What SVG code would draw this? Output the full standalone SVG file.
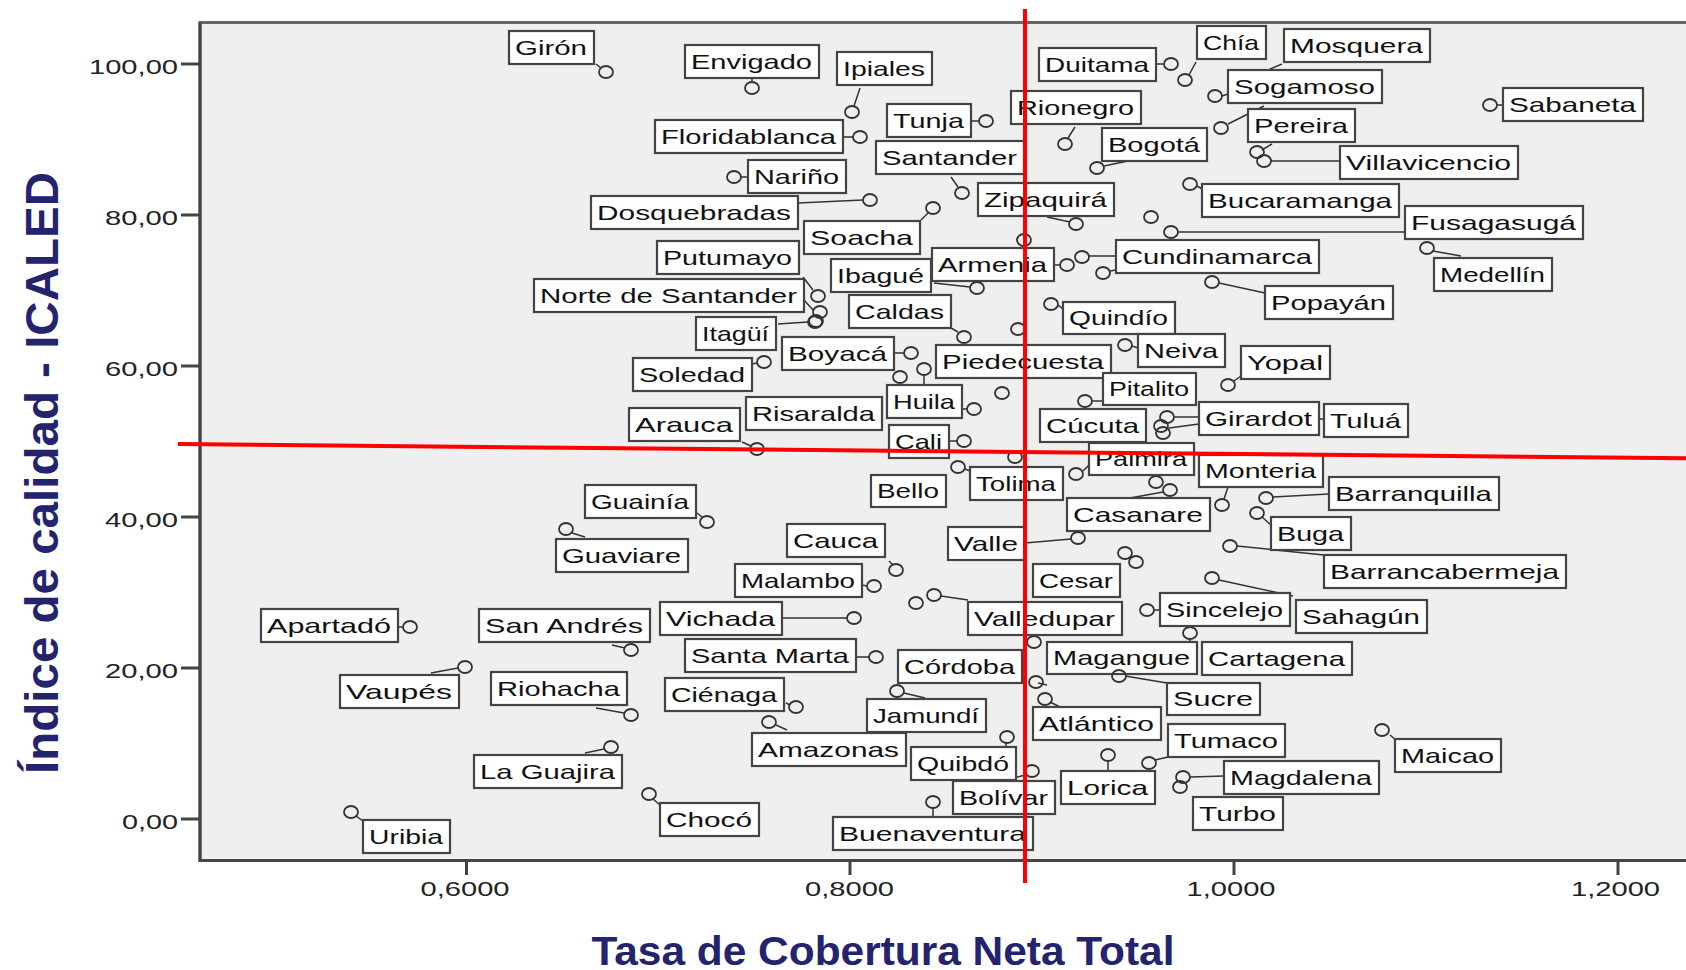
<svg xmlns="http://www.w3.org/2000/svg" width="1686" height="970" viewBox="0 0 1686 970">
<style>
.b{fill:#fff;stroke:#444;stroke-width:2.2}
.t{font-family:"Liberation Sans",Arial,sans-serif;font-size:21px;fill:#111}
.m{fill:none;stroke:#333;stroke-width:1.8}
.c{stroke:#333;stroke-width:1.5;fill:none}
.tk{font-family:"Liberation Sans",Arial,sans-serif;font-size:20px;fill:#222}
.ax{stroke:#444;stroke-width:3;fill:none}
.red{stroke:#ff0000;stroke-width:4;fill:none}
.ttl{font-family:"Liberation Sans",Arial,sans-serif;font-weight:bold;fill:#23236e}
</style>
<rect x="0" y="0" width="1686" height="970" fill="#fff"/>
<g id="plot-frame">
<rect x="200" y="22.5" width="1500" height="838" fill="#efefef" stroke="#666" stroke-width="3"/>
<path class="ax" d="M200 22.5V860.5H1686"/>
</g>
<g id="y-axis">
<path class="ax" d="M181 64H200M181 215H200M181 366H200M181 517H200M181 668H200M181 819H200"/>
<text class="tk" x="178" y="73.5" text-anchor="end" textLength="89" lengthAdjust="spacingAndGlyphs">100,00</text>
<text class="tk" x="178" y="224.5" text-anchor="end" textLength="73" lengthAdjust="spacingAndGlyphs">80,00</text>
<text class="tk" x="178" y="375.5" text-anchor="end" textLength="73" lengthAdjust="spacingAndGlyphs">60,00</text>
<text class="tk" x="178" y="526.5" text-anchor="end" textLength="73" lengthAdjust="spacingAndGlyphs">40,00</text>
<text class="tk" x="178" y="677.5" text-anchor="end" textLength="73" lengthAdjust="spacingAndGlyphs">20,00</text>
<text class="tk" x="178" y="828.5" text-anchor="end" textLength="56" lengthAdjust="spacingAndGlyphs">0,00</text>
<text class="ttl" font-size="46" transform="translate(58 473) rotate(-90)" text-anchor="middle" textLength="602" lengthAdjust="spacingAndGlyphs">Índice de calidad - ICALED</text>
</g>
<g id="x-axis">
<path class="ax" d="M466.5 860V875M850 860V875M1234 860V875M1618 860V875"/>
<text class="tk" x="465" y="896" text-anchor="middle" textLength="89" lengthAdjust="spacingAndGlyphs">0,6000</text>
<text class="tk" x="849.5" y="896" text-anchor="middle" textLength="89" lengthAdjust="spacingAndGlyphs">0,8000</text>
<text class="tk" x="1231" y="896" text-anchor="middle" textLength="89" lengthAdjust="spacingAndGlyphs">1,0000</text>
<text class="tk" x="1615.5" y="896" text-anchor="middle" textLength="89" lengthAdjust="spacingAndGlyphs">1,2000</text>
<text class="ttl" font-size="40" x="883" y="965" text-anchor="middle" textLength="583" lengthAdjust="spacingAndGlyphs">Tasa de Cobertura Neta Total</text>
</g>
<g id="connectors">
<path class="c" d="M596 64L601 68M752 79V82M860 88L854 106M843 137H853M971 121H979M1075 127L1068 138M1104 166L1128 161M951 177L958 187M741 177H748M798 203L863 200M1047 217L1070 222M921 220L928 213M803 277L813 290M1060 265H1054M1089 256H1116M1110 271L1116 270M934 283L970 287M804 300L813 310M951 328L958 332M1058 305L1063 309M778 324L808 322M894 353H904M752 364L757 363M924 376V385M1132 346L1138 348M1234 381L1241 376M1092 401H1103M962 409H967M742 442L751 446M949 441H957M1174 417H1199M1169 428L1199 424M1319 419H1324M1083 471L1089 465M965 469L970 471M1228 487L1224 499M1163 492L1130 498M1273 497L1329 494M1262 517L1271 525M1237 546L1324 555M697 513L703 518M572 533L585 537M889 561L893 565M1025 543L1071 539M862 585L867 586M941 596L968 600M782 618H847M1154 610H1160M1219 580L1293 596M612 645L625 648M398 627H403M856 657H869M1125 676L1167 683M1050 702L1060 707M1155 760L1168 757M1190 777L1224 776M1390 735L1396 740M1108 761V771M786 703L790 705M596 708L624 713M431 673L458 668M904 693L925 698M776 725L787 730M1006 743V747M1025 775L1014 778M933 808V817M585 753L604 749M653 799L660 805M356 816L363 821M1497 105H1503M1156 64H1164M1196 62L1189 75M1282 64L1270 69M1222 96L1228 94M1228 124L1264 106M1271 161H1340M1262 150L1272 144M1197 186L1204 190M1178 232H1405M1433 251L1461 256M1219 283L1265 293M1190 639V642M1038 683L1047 685"/>
</g>
<g id="points">
<ellipse class="m" cx="1024" cy="240" rx="7" ry="6"/>
<ellipse class="m" cx="1002" cy="393" rx="7" ry="6"/>
<ellipse class="m" cx="1015" cy="457" rx="7" ry="6"/>
<ellipse class="m" cx="1156" cy="482" rx="7" ry="6"/>
<ellipse class="m" cx="1170" cy="490" rx="7" ry="6"/>
<ellipse class="m" cx="1125" cy="553" rx="7" ry="6"/>
<ellipse class="m" cx="1136" cy="562" rx="7" ry="6"/>
<ellipse class="m" cx="916" cy="603" rx="7" ry="6"/>
<ellipse class="m" cx="934" cy="595" rx="7" ry="6"/>
<ellipse class="m" cx="1151" cy="217" rx="7" ry="6"/>
<ellipse class="m" cx="1034" cy="642" rx="7" ry="6"/>
<ellipse class="m" cx="1190" cy="633" rx="7" ry="6"/>
<ellipse class="m" cx="1036" cy="682" rx="7" ry="6"/>
<ellipse class="m" cx="900" cy="377" rx="7" ry="6"/>
<ellipse class="m" cx="1018" cy="329" rx="7" ry="6"/>
<ellipse class="m" cx="1257" cy="152" rx="7" ry="6"/>
<ellipse class="m" cx="1082" cy="257" rx="7" ry="6"/>
<ellipse class="m" cx="1103" cy="273" rx="7" ry="6"/>
<ellipse class="m" cx="1161" cy="426" rx="7" ry="6"/>
<ellipse class="m" cx="1163" cy="433" rx="7" ry="6"/>
<ellipse class="m" cx="1180" cy="787" rx="7" ry="6"/>
<ellipse class="m" cx="818" cy="296" rx="7" ry="6"/>
<ellipse class="m" cx="816" cy="321" rx="7" ry="6"/>
</g>
<g id="n-giron"><rect class="b" x="509" y="31" width="85" height="33"/><text class="t" x="515" y="55" textLength="72" lengthAdjust="spacingAndGlyphs">Girón</text><ellipse class="m" cx="606" cy="72" rx="7" ry="6"/></g>
<g id="n-envigado"><rect class="b" x="685" y="45" width="134" height="33"/><text class="t" x="691" y="69" textLength="121" lengthAdjust="spacingAndGlyphs">Envigado</text><ellipse class="m" cx="752" cy="88" rx="7" ry="6"/></g>
<g id="n-ipiales"><rect class="b" x="837" y="52" width="95" height="33"/><text class="t" x="843" y="76" textLength="82" lengthAdjust="spacingAndGlyphs">Ipiales</text><ellipse class="m" cx="852" cy="112" rx="7" ry="6"/></g>
<g id="n-floridablanca"><rect class="b" x="655" y="120" width="188" height="33"/><text class="t" x="661" y="144" textLength="175" lengthAdjust="spacingAndGlyphs">Floridablanca</text><ellipse class="m" cx="860" cy="137" rx="7" ry="6"/></g>
<g id="n-tunja"><rect class="b" x="887" y="104" width="84" height="33"/><text class="t" x="893" y="128" textLength="71" lengthAdjust="spacingAndGlyphs">Tunja</text><ellipse class="m" cx="986" cy="121" rx="7" ry="6"/></g>
<g id="n-rionegro"><rect class="b" x="1011" y="91" width="130" height="33"/><text class="t" x="1017" y="115" textLength="117" lengthAdjust="spacingAndGlyphs">Rionegro</text><ellipse class="m" cx="1065" cy="144" rx="7" ry="6"/></g>
<g id="n-bogota"><rect class="b" x="1102" y="128" width="105" height="33"/><text class="t" x="1108" y="152" textLength="92" lengthAdjust="spacingAndGlyphs">Bogotá</text><ellipse class="m" cx="1097" cy="168" rx="7" ry="6"/></g>
<g id="n-santander"><rect class="b" x="876" y="141" width="148" height="33"/><text class="t" x="882" y="165" textLength="135" lengthAdjust="spacingAndGlyphs">Santander</text><ellipse class="m" cx="962" cy="193" rx="7" ry="6"/></g>
<g id="n-narino"><rect class="b" x="748" y="160" width="98" height="33"/><text class="t" x="754" y="184" textLength="85" lengthAdjust="spacingAndGlyphs">Nariño</text><ellipse class="m" cx="734" cy="177" rx="7" ry="6"/></g>
<g id="n-dosquebradas"><rect class="b" x="591" y="196" width="207" height="33"/><text class="t" x="597" y="220" textLength="194" lengthAdjust="spacingAndGlyphs">Dosquebradas</text><ellipse class="m" cx="870" cy="200" rx="7" ry="6"/></g>
<g id="n-zipaquira"><rect class="b" x="978" y="183" width="136" height="33"/><text class="t" x="984" y="207" textLength="123" lengthAdjust="spacingAndGlyphs">Zipaquirá</text><ellipse class="m" cx="1076" cy="224" rx="7" ry="6"/></g>
<g id="n-soacha"><rect class="b" x="804" y="221" width="116" height="33"/><text class="t" x="810" y="245" textLength="103" lengthAdjust="spacingAndGlyphs">Soacha</text><ellipse class="m" cx="933" cy="208" rx="7" ry="6"/></g>
<g id="n-putumayo"><rect class="b" x="657" y="241" width="142" height="33"/><text class="t" x="663" y="265" textLength="129" lengthAdjust="spacingAndGlyphs">Putumayo</text></g>
<g id="n-armenia"><rect class="b" x="932" y="248" width="122" height="33"/><text class="t" x="938" y="272" textLength="109" lengthAdjust="spacingAndGlyphs">Armenia</text><ellipse class="m" cx="1067" cy="265" rx="7" ry="6"/></g>
<g id="n-ibague"><rect class="b" x="831" y="259" width="100" height="33"/><text class="t" x="837" y="283" textLength="87" lengthAdjust="spacingAndGlyphs">Ibagué</text><ellipse class="m" cx="977" cy="288" rx="7" ry="6"/></g>
<g id="n-norte-de-santander"><rect class="b" x="534" y="279" width="270" height="33"/><text class="t" x="540" y="303" textLength="257" lengthAdjust="spacingAndGlyphs">Norte de Santander</text><ellipse class="m" cx="820" cy="312" rx="7" ry="6"/></g>
<g id="n-caldas"><rect class="b" x="849" y="295" width="102" height="33"/><text class="t" x="855" y="319" textLength="89" lengthAdjust="spacingAndGlyphs">Caldas</text><ellipse class="m" cx="964" cy="337" rx="7" ry="6"/></g>
<g id="n-quindio"><rect class="b" x="1063" y="302" width="112" height="32"/><text class="t" x="1069" y="325" textLength="99" lengthAdjust="spacingAndGlyphs">Quindío</text><ellipse class="m" cx="1051" cy="304" rx="7" ry="6"/></g>
<g id="n-itagui"><rect class="b" x="696" y="317" width="80" height="33"/><text class="t" x="702" y="341" textLength="67" lengthAdjust="spacingAndGlyphs">Itagüí</text><ellipse class="m" cx="815" cy="322" rx="7" ry="6"/></g>
<g id="n-boyaca"><rect class="b" x="782" y="337" width="112" height="33"/><text class="t" x="788" y="361" textLength="99" lengthAdjust="spacingAndGlyphs">Boyacá</text><ellipse class="m" cx="911" cy="353" rx="7" ry="6"/></g>
<g id="n-soledad"><rect class="b" x="633" y="358" width="119" height="33"/><text class="t" x="639" y="382" textLength="106" lengthAdjust="spacingAndGlyphs">Soledad</text><ellipse class="m" cx="764" cy="362" rx="7" ry="6"/></g>
<g id="n-piedecuesta"><rect class="b" x="936" y="345" width="175" height="33"/><text class="t" x="942" y="369" textLength="162" lengthAdjust="spacingAndGlyphs">Piedecuesta</text><ellipse class="m" cx="924" cy="369" rx="7" ry="6"/></g>
<g id="n-neiva"><rect class="b" x="1138" y="334" width="87" height="33"/><text class="t" x="1144" y="358" textLength="74" lengthAdjust="spacingAndGlyphs">Neiva</text><ellipse class="m" cx="1125" cy="345" rx="7" ry="6"/></g>
<g id="n-yopal"><rect class="b" x="1241" y="346" width="89" height="33"/><text class="t" x="1247" y="370" textLength="76" lengthAdjust="spacingAndGlyphs">Yopal</text><ellipse class="m" cx="1228" cy="385" rx="7" ry="6"/></g>
<g id="n-pitalito"><rect class="b" x="1103" y="373" width="93" height="32"/><text class="t" x="1109" y="396" textLength="80" lengthAdjust="spacingAndGlyphs">Pitalito</text><ellipse class="m" cx="1085" cy="401" rx="7" ry="6"/></g>
<g id="n-huila"><rect class="b" x="887" y="385" width="75" height="33"/><text class="t" x="893" y="409" textLength="62" lengthAdjust="spacingAndGlyphs">Huila</text><ellipse class="m" cx="974" cy="409" rx="7" ry="6"/></g>
<g id="n-risaralda"><rect class="b" x="746" y="397" width="136" height="33"/><text class="t" x="752" y="421" textLength="123" lengthAdjust="spacingAndGlyphs">Risaralda</text></g>
<g id="n-arauca"><rect class="b" x="629" y="408" width="111" height="33"/><text class="t" x="635" y="432" textLength="98" lengthAdjust="spacingAndGlyphs">Arauca</text><ellipse class="m" cx="757" cy="449" rx="7" ry="6"/></g>
<g id="n-cali"><rect class="b" x="889" y="425" width="60" height="33"/><text class="t" x="895" y="449" textLength="47" lengthAdjust="spacingAndGlyphs">Cali</text><ellipse class="m" cx="964" cy="441" rx="7" ry="6"/></g>
<g id="n-cucuta"><rect class="b" x="1040" y="409" width="106" height="33"/><text class="t" x="1046" y="433" textLength="93" lengthAdjust="spacingAndGlyphs">Cúcuta</text><ellipse class="m" cx="1167" cy="417" rx="7" ry="6"/></g>
<g id="n-girardot"><rect class="b" x="1199" y="402" width="120" height="33"/><text class="t" x="1205" y="426" textLength="107" lengthAdjust="spacingAndGlyphs">Girardot</text></g>
<g id="n-tulua"><rect class="b" x="1324" y="404" width="84" height="33"/><text class="t" x="1330" y="428" textLength="71" lengthAdjust="spacingAndGlyphs">Tuluá</text></g>
<g id="n-palmira"><rect class="b" x="1089" y="443" width="105" height="32"/><text class="t" x="1095" y="466" textLength="92" lengthAdjust="spacingAndGlyphs">Palmira</text><ellipse class="m" cx="1076" cy="474" rx="7" ry="6"/></g>
<g id="n-tolima"><rect class="b" x="970" y="467" width="93" height="33"/><text class="t" x="976" y="491" textLength="80" lengthAdjust="spacingAndGlyphs">Tolima</text><ellipse class="m" cx="958" cy="467" rx="7" ry="6"/></g>
<g id="n-bello"><rect class="b" x="871" y="475" width="75" height="32"/><text class="t" x="877" y="498" textLength="62" lengthAdjust="spacingAndGlyphs">Bello</text></g>
<g id="n-monteria"><rect class="b" x="1199" y="455" width="124" height="32"/><text class="t" x="1205" y="478" textLength="111" lengthAdjust="spacingAndGlyphs">Monteria</text><ellipse class="m" cx="1222" cy="505" rx="7" ry="6"/></g>
<g id="n-casanare"><rect class="b" x="1067" y="498" width="143" height="33"/><text class="t" x="1073" y="522" textLength="130" lengthAdjust="spacingAndGlyphs">Casanare</text></g>
<g id="n-barranquilla"><rect class="b" x="1329" y="477" width="170" height="33"/><text class="t" x="1335" y="501" textLength="157" lengthAdjust="spacingAndGlyphs">Barranquilla</text><ellipse class="m" cx="1266" cy="498" rx="7" ry="6"/></g>
<g id="n-buga"><rect class="b" x="1271" y="517" width="80" height="33"/><text class="t" x="1277" y="541" textLength="67" lengthAdjust="spacingAndGlyphs">Buga</text><ellipse class="m" cx="1257" cy="513" rx="7" ry="6"/></g>
<g id="n-barrancabermeja"><rect class="b" x="1324" y="555" width="242" height="33"/><text class="t" x="1330" y="579" textLength="229" lengthAdjust="spacingAndGlyphs">Barrancabermeja</text><ellipse class="m" cx="1230" cy="546" rx="7" ry="6"/></g>
<g id="n-guainia"><rect class="b" x="585" y="485" width="111" height="33"/><text class="t" x="591" y="509" textLength="98" lengthAdjust="spacingAndGlyphs">Guainía</text><ellipse class="m" cx="707" cy="522" rx="7" ry="6"/></g>
<g id="n-guaviare"><rect class="b" x="556" y="539" width="132" height="33"/><text class="t" x="562" y="563" textLength="119" lengthAdjust="spacingAndGlyphs">Guaviare</text><ellipse class="m" cx="566" cy="529" rx="7" ry="6"/></g>
<g id="n-cauca"><rect class="b" x="787" y="524" width="98" height="33"/><text class="t" x="793" y="548" textLength="85" lengthAdjust="spacingAndGlyphs">Cauca</text><ellipse class="m" cx="896" cy="570" rx="7" ry="6"/></g>
<g id="n-valle"><rect class="b" x="948" y="527" width="77" height="33"/><text class="t" x="954" y="551" textLength="64" lengthAdjust="spacingAndGlyphs">Valle</text><ellipse class="m" cx="1078" cy="538" rx="7" ry="6"/></g>
<g id="n-malambo"><rect class="b" x="735" y="564" width="127" height="33"/><text class="t" x="741" y="588" textLength="114" lengthAdjust="spacingAndGlyphs">Malambo</text><ellipse class="m" cx="874" cy="586" rx="7" ry="6"/></g>
<g id="n-cesar"><rect class="b" x="1033" y="564" width="87" height="33"/><text class="t" x="1039" y="588" textLength="74" lengthAdjust="spacingAndGlyphs">Cesar</text></g>
<g id="n-vichada"><rect class="b" x="660" y="602" width="122" height="33"/><text class="t" x="666" y="626" textLength="109" lengthAdjust="spacingAndGlyphs">Vichada</text><ellipse class="m" cx="854" cy="618" rx="7" ry="6"/></g>
<g id="n-valledupar"><rect class="b" x="968" y="602" width="154" height="33"/><text class="t" x="974" y="626" textLength="141" lengthAdjust="spacingAndGlyphs">Valledupar</text></g>
<g id="n-sincelejo"><rect class="b" x="1160" y="593" width="130" height="33"/><text class="t" x="1166" y="617" textLength="117" lengthAdjust="spacingAndGlyphs">Sincelejo</text><ellipse class="m" cx="1147" cy="610" rx="7" ry="6"/></g>
<g id="n-sahagun"><rect class="b" x="1296" y="600" width="131" height="33"/><text class="t" x="1302" y="624" textLength="118" lengthAdjust="spacingAndGlyphs">Sahagún</text><ellipse class="m" cx="1212" cy="578" rx="7" ry="6"/></g>
<g id="n-san-andres"><rect class="b" x="479" y="609" width="171" height="33"/><text class="t" x="485" y="633" textLength="158" lengthAdjust="spacingAndGlyphs">San Andrés</text><ellipse class="m" cx="631" cy="650" rx="7" ry="6"/></g>
<g id="n-apartado"><rect class="b" x="261" y="609" width="137" height="33"/><text class="t" x="267" y="633" textLength="124" lengthAdjust="spacingAndGlyphs">Apartadó</text><ellipse class="m" cx="410" cy="627" rx="7" ry="6"/></g>
<g id="n-santa-marta"><rect class="b" x="685" y="639" width="171" height="33"/><text class="t" x="691" y="663" textLength="158" lengthAdjust="spacingAndGlyphs">Santa Marta</text><ellipse class="m" cx="876" cy="657" rx="7" ry="6"/></g>
<g id="n-cordoba"><rect class="b" x="898" y="650" width="124" height="33"/><text class="t" x="904" y="674" textLength="111" lengthAdjust="spacingAndGlyphs">Córdoba</text></g>
<g id="n-magangue"><rect class="b" x="1047" y="642" width="150" height="32"/><text class="t" x="1053" y="665" textLength="137" lengthAdjust="spacingAndGlyphs">Magangue</text></g>
<g id="n-cartagena"><rect class="b" x="1202" y="642" width="150" height="33"/><text class="t" x="1208" y="666" textLength="137" lengthAdjust="spacingAndGlyphs">Cartagena</text></g>
<g id="n-sucre"><rect class="b" x="1167" y="683" width="93" height="32"/><text class="t" x="1173" y="706" textLength="80" lengthAdjust="spacingAndGlyphs">Sucre</text><ellipse class="m" cx="1119" cy="676" rx="7" ry="6"/></g>
<g id="n-atlantico"><rect class="b" x="1033" y="707" width="128" height="33"/><text class="t" x="1039" y="731" textLength="115" lengthAdjust="spacingAndGlyphs">Atlántico</text><ellipse class="m" cx="1045" cy="699" rx="7" ry="6"/></g>
<g id="n-tumaco"><rect class="b" x="1168" y="724" width="117" height="33"/><text class="t" x="1174" y="748" textLength="104" lengthAdjust="spacingAndGlyphs">Tumaco</text><ellipse class="m" cx="1149" cy="763" rx="7" ry="6"/></g>
<g id="n-magdalena"><rect class="b" x="1224" y="761" width="155" height="33"/><text class="t" x="1230" y="785" textLength="142" lengthAdjust="spacingAndGlyphs">Magdalena</text><ellipse class="m" cx="1183" cy="777" rx="7" ry="6"/></g>
<g id="n-turbo"><rect class="b" x="1193" y="797" width="90" height="33"/><text class="t" x="1199" y="821" textLength="77" lengthAdjust="spacingAndGlyphs">Turbo</text></g>
<g id="n-maicao"><rect class="b" x="1395" y="739" width="106" height="33"/><text class="t" x="1401" y="763" textLength="93" lengthAdjust="spacingAndGlyphs">Maicao</text><ellipse class="m" cx="1382" cy="730" rx="7" ry="6"/></g>
<g id="n-lorica"><rect class="b" x="1061" y="771" width="94" height="33"/><text class="t" x="1067" y="795" textLength="81" lengthAdjust="spacingAndGlyphs">Lorica</text><ellipse class="m" cx="1108" cy="755" rx="7" ry="6"/></g>
<g id="n-cienaga"><rect class="b" x="665" y="678" width="119" height="33"/><text class="t" x="671" y="702" textLength="106" lengthAdjust="spacingAndGlyphs">Ciénaga</text><ellipse class="m" cx="796" cy="707" rx="7" ry="6"/></g>
<g id="n-riohacha"><rect class="b" x="491" y="672" width="136" height="33"/><text class="t" x="497" y="696" textLength="123" lengthAdjust="spacingAndGlyphs">Riohacha</text><ellipse class="m" cx="631" cy="715" rx="7" ry="6"/></g>
<g id="n-vaupes"><rect class="b" x="340" y="675" width="119" height="33"/><text class="t" x="346" y="699" textLength="106" lengthAdjust="spacingAndGlyphs">Vaupés</text><ellipse class="m" cx="465" cy="667" rx="7" ry="6"/></g>
<g id="n-jamundi"><rect class="b" x="867" y="699" width="119" height="33"/><text class="t" x="873" y="723" textLength="106" lengthAdjust="spacingAndGlyphs">Jamundí</text><ellipse class="m" cx="897" cy="691" rx="7" ry="6"/></g>
<g id="n-amazonas"><rect class="b" x="752" y="733" width="154" height="33"/><text class="t" x="758" y="757" textLength="141" lengthAdjust="spacingAndGlyphs">Amazonas</text><ellipse class="m" cx="769" cy="722" rx="7" ry="6"/></g>
<g id="n-quibdo"><rect class="b" x="911" y="747" width="105" height="33"/><text class="t" x="917" y="771" textLength="92" lengthAdjust="spacingAndGlyphs">Quibdó</text><ellipse class="m" cx="1007" cy="737" rx="7" ry="6"/></g>
<g id="n-bolivar"><rect class="b" x="953" y="781" width="102" height="33"/><text class="t" x="959" y="805" textLength="89" lengthAdjust="spacingAndGlyphs">Bolívar</text><ellipse class="m" cx="1032" cy="771" rx="7" ry="6"/></g>
<g id="n-buenaventura"><rect class="b" x="833" y="817" width="200" height="33"/><text class="t" x="839" y="841" textLength="187" lengthAdjust="spacingAndGlyphs">Buenaventura</text><ellipse class="m" cx="933" cy="802" rx="7" ry="6"/></g>
<g id="n-la-guajira"><rect class="b" x="474" y="755" width="148" height="33"/><text class="t" x="480" y="779" textLength="135" lengthAdjust="spacingAndGlyphs">La Guajira</text><ellipse class="m" cx="611" cy="747" rx="7" ry="6"/></g>
<g id="n-choco"><rect class="b" x="660" y="803" width="99" height="33"/><text class="t" x="666" y="827" textLength="86" lengthAdjust="spacingAndGlyphs">Chocó</text><ellipse class="m" cx="649" cy="794" rx="7" ry="6"/></g>
<g id="n-uribia"><rect class="b" x="363" y="820" width="87" height="33"/><text class="t" x="369" y="844" textLength="74" lengthAdjust="spacingAndGlyphs">Uribia</text><ellipse class="m" cx="351" cy="812" rx="7" ry="6"/></g>
<g id="n-sabaneta"><rect class="b" x="1503" y="88" width="140" height="33"/><text class="t" x="1509" y="112" textLength="127" lengthAdjust="spacingAndGlyphs">Sabaneta</text><ellipse class="m" cx="1490" cy="105" rx="7" ry="6"/></g>
<g id="n-duitama"><rect class="b" x="1039" y="48" width="117" height="33"/><text class="t" x="1045" y="72" textLength="104" lengthAdjust="spacingAndGlyphs">Duitama</text><ellipse class="m" cx="1171" cy="64" rx="7" ry="6"/></g>
<g id="n-chia"><rect class="b" x="1197" y="26" width="69" height="33"/><text class="t" x="1203" y="50" textLength="56" lengthAdjust="spacingAndGlyphs">Chía</text><ellipse class="m" cx="1185" cy="80" rx="7" ry="6"/></g>
<g id="n-mosquera"><rect class="b" x="1284" y="29" width="146" height="33"/><text class="t" x="1290" y="53" textLength="133" lengthAdjust="spacingAndGlyphs">Mosquera</text></g>
<g id="n-sogamoso"><rect class="b" x="1228" y="70" width="154" height="33"/><text class="t" x="1234" y="94" textLength="141" lengthAdjust="spacingAndGlyphs">Sogamoso</text><ellipse class="m" cx="1215" cy="96" rx="7" ry="6"/></g>
<g id="n-pereira"><rect class="b" x="1248" y="109" width="107" height="33"/><text class="t" x="1254" y="133" textLength="94" lengthAdjust="spacingAndGlyphs">Pereira</text><ellipse class="m" cx="1221" cy="128" rx="7" ry="6"/></g>
<g id="n-villavicencio"><rect class="b" x="1340" y="146" width="178" height="33"/><text class="t" x="1346" y="170" textLength="165" lengthAdjust="spacingAndGlyphs">Villavicencio</text><ellipse class="m" cx="1264" cy="161" rx="7" ry="6"/></g>
<g id="n-bucaramanga"><rect class="b" x="1202" y="184" width="197" height="33"/><text class="t" x="1208" y="208" textLength="184" lengthAdjust="spacingAndGlyphs">Bucaramanga</text><ellipse class="m" cx="1190" cy="184" rx="7" ry="6"/></g>
<g id="n-fusagasuga"><rect class="b" x="1405" y="206" width="178" height="33"/><text class="t" x="1411" y="230" textLength="165" lengthAdjust="spacingAndGlyphs">Fusagasugá</text><ellipse class="m" cx="1171" cy="232" rx="7" ry="6"/></g>
<g id="n-medellin"><rect class="b" x="1434" y="258" width="118" height="33"/><text class="t" x="1440" y="282" textLength="105" lengthAdjust="spacingAndGlyphs">Medellín</text><ellipse class="m" cx="1427" cy="248" rx="7" ry="6"/></g>
<g id="n-cundinamarca"><rect class="b" x="1116" y="240" width="203" height="33"/><text class="t" x="1122" y="264" textLength="190" lengthAdjust="spacingAndGlyphs">Cundinamarca</text></g>
<g id="n-popayan"><rect class="b" x="1265" y="286" width="128" height="33"/><text class="t" x="1271" y="310" textLength="115" lengthAdjust="spacingAndGlyphs">Popayán</text><ellipse class="m" cx="1212" cy="282" rx="7" ry="6"/></g>
<g id="reference-lines">
<line class="red" x1="1025" y1="9" x2="1025" y2="883"/>
<line class="red" x1="178" y1="444" x2="1686" y2="458.3"/>
</g>
</svg>
